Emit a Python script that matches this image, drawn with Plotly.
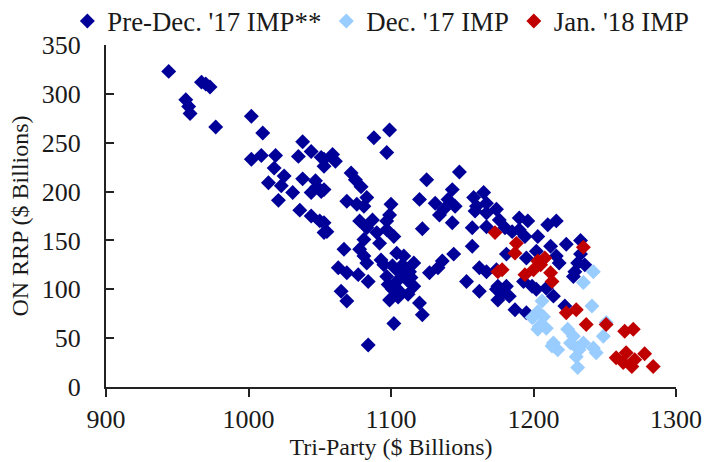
import plotly.graph_objects as go

# Pre-Dec. '17 IMP** (Tri-Party, ON RRP) in $ billions
pre_x = [944, 967, 973, 970, 956, 958, 959, 977, 1002, 1010, 1038, 1044, 1035, 1051, 1053,
         1002, 1009, 1019, 1018, 1025, 1014, 1023, 1031, 1038, 1047, 1048, 1044, 1051, 1021,
         1036, 1044, 1050, 1053,
         1099, 1088, 1097, 1059, 1053, 1061, 1148, 1125, 1072, 1075, 1079, 1053, 1143, 1165,
         1083, 1069, 1076, 1081, 1100, 1120, 1131, 1140, 1145, 1158, 1160, 1167, 1174, 1134,
         1137, 1099, 1097, 1078, 1087, 1053, 1055, 1122, 1143, 1157, 1167, 1083, 1090, 1097,
         1102, 1081, 1092, 1067, 1078, 1081, 1083, 1157, 1144, 1104, 1109, 1116, 1095, 1136,
         1133, 1127, 1162, 1167, 1063, 1069, 1077, 1084, 1101, 1106, 1113, 1097, 1104, 1111,
         1116, 1101, 1106, 1099, 1153, 1162, 1174, 1175, 1065, 1069, 1120, 1122, 1102, 1084,
         1108, 1112, 1098, 1105, 1114, 1093,
         1159, 1167, 1176, 1180, 1190, 1196, 1210, 1216, 1185, 1190, 1194, 1203, 1212, 1223,
         1181, 1195, 1202, 1216, 1218, 1233, 1231, 1236, 1174, 1175, 1178, 1181, 1183, 1187,
         1193, 1199, 1202, 1209, 1214, 1222, 1229, 1228, 1195, 1233]
pre_y = [323, 312, 307, 310, 294, 287, 280, 266, 277, 260, 251, 241, 236, 235, 226,
         233, 237, 237, 224, 216, 209, 206, 199, 213, 211, 205, 199, 200, 191,
         181, 175, 170, 158,
         263, 255, 240, 238, 233, 231, 220, 212, 219, 212, 205, 202, 202, 199,
         194, 190, 187, 185, 187, 192, 188, 192, 185, 194, 185, 188, 182, 176,
         182, 176, 170, 170, 171, 168, 159, 162, 168, 163, 164, 163, 158, 161,
         154, 151, 147, 141, 141, 134, 127, 144, 136, 137, 134, 127, 125, 129,
         122, 117, 122, 118, 122, 117, 115, 108, 124, 117, 118, 113, 108, 110,
         103, 100, 98, 89, 108, 98, 100, 89, 98, 88, 86, 74, 65, 43,
         125, 95, 105, 92, 112, 130,
         180, 178, 171, 163, 173, 170, 166, 170, 159, 161, 154, 154, 144, 146,
         136, 132, 139, 134, 127, 136, 127, 125, 120, 103, 96, 103, 93, 79,
         108, 103, 100, 101, 93, 83, 118, 113, 76, 150]

# Dec. '17 IMP
dec_x = [1242, 1235, 1206, 1203, 1199, 1207, 1241, 1203, 1209, 1214, 1217, 1224, 1228,
         1226, 1231, 1230, 1231, 1242, 1244, 1249, 1251, 1235, 1200, 1204, 1213, 1232]
dec_y = [118, 107, 88, 77, 71, 72, 83, 59, 60, 45, 38, 59, 52,
         45, 40, 31, 20, 40, 35, 52, 66, 45, 72, 62, 42, 38]

# Jan. '18 IMP
jan_x = [1173, 1188, 1187, 1178, 1194, 1200, 1203, 1208, 1212, 1213, 1205, 1235, 1223,
         1230, 1237, 1251, 1264, 1270, 1278, 1284, 1258, 1265, 1263, 1269, 1271, 1175]
jan_y = [158, 147, 137, 120, 115, 120, 129, 132, 117, 108, 125, 143, 76,
         79, 64, 64, 57, 59, 34, 21, 30, 35, 25, 21, 28, 118]

series_names = ["Pre-Dec. '17 IMP**", "Dec. '17 IMP", "Jan. '18 IMP"]
colors = ["#000099", "#99CCFF", "#C00000"]

x_ticks = [900, 1000, 1100, 1200, 1300]
y_ticks = [0, 50, 100, 150, 200, 250, 300, 350]

FONT = "Liberation Serif, Times New Roman, serif"
TXT = "#1a1a1a"

fig = go.Figure()
for name, xs, ys, c in zip(series_names, [pre_x, dec_x, jan_x], [pre_y, dec_y, jan_y], colors):
    fig.add_trace(go.Scatter(
        x=xs, y=ys, mode="markers", name=name,
        marker=dict(symbol="diamond", size=11.5, color=c, line=dict(width=0)),
    ))

fig.update_layout(
    width=717, height=462,
    margin=dict(l=106, r=41, t=45, b=75, autoexpand=False),
    paper_bgcolor="white", plot_bgcolor="white",
    font=dict(family=FONT, size=25, color=TXT),
    showlegend=True,
    legend=dict(
        orientation="h", x=-0.0678, xanchor="left",
        y=1.14, yanchor="top",
        font=dict(family=FONT, size=26.8, color=TXT),
        bgcolor="rgba(0,0,0,0)", itemwidth=30, tracegroupgap=0,
    ),
    xaxis=dict(
        range=[900, 1300], tickvals=x_ticks, ticktext=[str(v) for v in x_ticks],
        showgrid=False, zeroline=False, showline=True, linecolor="#222222", linewidth=2,
        ticks="outside", ticklen=8, tickwidth=2, tickcolor="#222222",
        tickfont=dict(family=FONT, size=26, color=TXT),
        title=dict(text="Tri-Party ($ Billions)", font=dict(family=FONT, size=24, color=TXT),
                   standoff=4),
    ),
    yaxis=dict(
        range=[0, 350], tickvals=y_ticks, ticktext=[str(v) for v in y_ticks],
        showgrid=False, zeroline=False, showline=True, linecolor="#222222", linewidth=2,
        ticks="inside", ticklen=8, tickwidth=2, tickcolor="#222222",
        tickfont=dict(family=FONT, size=26, color=TXT),
        ticklabelstandoff=18,
        title=dict(text="ON RRP ($ Billions)", font=dict(family=FONT, size=24, color=TXT),
                   standoff=6),
    ),
)

fig.write_html("out.html")
